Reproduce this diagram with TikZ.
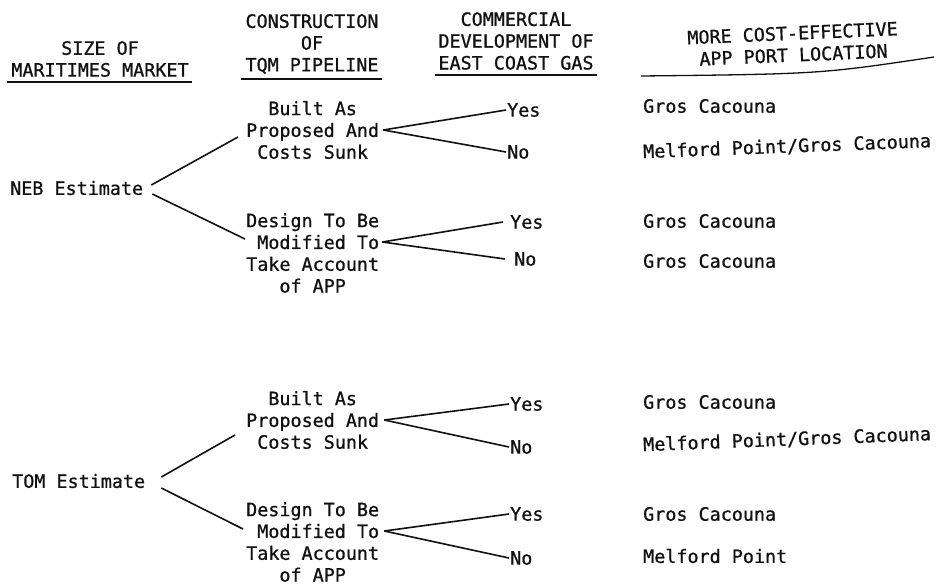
\documentclass[tikz,border=0pt]{standalone}
\usepackage{fontspec}
\newfontfamily\tw[FakeBold=0.8]{DejaVu Sans Mono}
\definecolor{ink}{HTML}{111111}
\begin{document}
\begin{tikzpicture}[x=1pt,y=-1pt,
  txt/.style={font=\tw\fontsize{18.4}{21.8}\selectfont, inner sep=0pt, text=ink},
  blk/.style={txt, align=left},
  hd/.style={txt, align=center},
  ln/.style={line width=1.6pt, draw=ink},
  ul/.style={line width=1.3pt, draw=ink},
  lbl/.style={txt, anchor=west, inner sep=1pt}]
\fill[white] (0,0) rectangle (942,587);
\useasboundingbox (0,0) rectangle (942,587);

% headers
\node[hd] (h1) at (100,59) {SIZE OF\\MARITIMES MARKET};
\node[hd] (h2) at (312,44) {CONSTRUCTION\\OF\\TQM PIPELINE};
\node[hd] (h3) at (516,41) {COMMERCIAL\\DEVELOPMENT OF\\EAST COAST GAS};
\node[hd, rotate=2.5] (h4) at (793,44) {MORE COST-EFFECTIVE\\APP PORT LOCATION};
\draw[ul] ([xshift=-4pt,yshift=-5pt]h1.south west) -- ([xshift=3pt,yshift=-5pt]h1.south east);
\draw[ul] ([xshift=-4pt,yshift=-5pt]h2.south west) -- ([xshift=3pt,yshift=-5pt]h2.south east);
\draw[ul] ([xshift=-3pt,yshift=-5pt]h3.south west) -- ([xshift=3pt,yshift=-5pt]h3.south east);
\coordinate (u4a) at (641,76);
\coordinate (u4c) at (820,74);
\coordinate (u4b) at (934,57);
\draw[ul] (u4a) .. controls (u4c) .. (u4b);

% NEB block
\node[txt, anchor=west] (neb) at (10,188) {NEB Estimate};
\node[blk, anchor=west] (b1) at (246,130) {\phantom{xx}Built As\\Proposed And\\\phantom{x}Costs Sunk};
\node[blk, anchor=west] (d1) at (246,253) {Design To Be\\\phantom{x}Modified To\\Take Account\\\phantom{xxx}of APP};
\node[lbl] (y1) at (506,110) {Yes};
\node[lbl] (n1) at (506,152) {No};
\node[lbl] (y2) at (509,222) {Yes};
\node[lbl] (n2) at (513,259) {No};
\node[txt, anchor=west] (r1) at (643,106) {Gros Cacouna};
\node[txt, anchor=west, rotate=2.2] (r2) at (643,152) {Melford Point/Gros Cacouna};
\node[txt, anchor=west] (r3) at (643,221) {Gros Cacouna};
\node[txt, anchor=west] (r4) at (643,261) {Gros Cacouna};

\draw[ln] ([xshift=8pt,yshift=3pt]neb.east) -- ([xshift=-8pt,yshift=-7pt]b1.west);
\draw[ln] ([xshift=9pt,yshift=-6pt]neb.east) -- ([xshift=-1pt,yshift=14pt]d1.west);
\draw[ln] ([xshift=4pt]b1.east) -- (y1.west);
\draw[ln] ([xshift=4pt]b1.east) -- (n1.west);
\draw[ln] ([xshift=3pt,yshift=11pt]d1.east) -- ([xshift=-6pt]y2.west);
\draw[ln] ([xshift=3pt,yshift=11pt]d1.east) -- ([xshift=-8pt]n2.west);

% TOM block
\node[txt, anchor=west] (tom) at (12,481) {TOM Estimate};
\node[blk, anchor=west] (b2) at (246,420) {\phantom{xx}Built As\\Proposed And\\\phantom{x}Costs Sunk};
\node[blk, anchor=west] (d2) at (246,542) {Design To Be\\\phantom{x}Modified To\\Take Account\\\phantom{xxx}of APP};
\node[lbl] (y3) at (509,404) {Yes};
\node[lbl] (n3) at (509,447) {No};
\node[lbl] (y4) at (509,514) {Yes};
\node[lbl] (n4) at (509,558) {No};
\node[txt, anchor=west] (r5) at (643,402) {Gros Cacouna};
\node[txt, anchor=west, rotate=2.2] (r6) at (643,445) {Melford Point/Gros Cacouna};
\node[txt, anchor=west] (r7) at (643,514) {Gros Cacouna};
\node[txt, anchor=west] (r8) at (643,556) {Melford Point};

\draw[ln] ([xshift=16pt,yshift=4pt]tom.east) -- ([xshift=-11pt,yshift=-15pt]b2.west);
\draw[ln] ([xshift=16pt,yshift=-7pt]tom.east) -- ([xshift=-3pt,yshift=13pt]d2.west);
\draw[ln] ([xshift=5pt]b2.east) -- (y3.west);
\draw[ln] ([xshift=5pt]b2.east) -- (n3.west);
\draw[ln] ([xshift=5pt,yshift=11pt]d2.east) -- (y4.west);
\draw[ln] ([xshift=5pt,yshift=11pt]d2.east) -- (n4.west);
\end{tikzpicture}
\end{document}
